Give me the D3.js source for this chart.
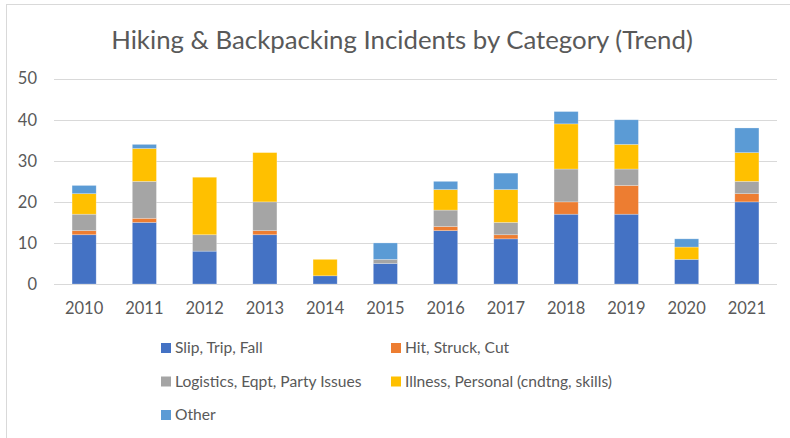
<!DOCTYPE html>
<html>
<head>
<meta charset="utf-8">
<script src="https://cdn.jsdelivr.net/npm/d3@7"></script>
<style>
  body { margin: 0; background: #fff; }
  text { font-family: Lato, "Open Sans", sans-serif; fill: #595959; }
</style>
</head>
<body>
<svg id="chart"></svg>
<script>
const width = 790;
const height = 438;

// Data
const years = ["2010", "2011", "2012", "2013", "2014", "2015", "2016", "2017", "2018", "2019", "2020", "2021"];
const slipTripFall = [12, 15, 8, 12, 2, 5, 13, 11, 17, 17, 6, 20];
const hitStruckCut = [1, 1, 0, 1, 0, 0, 1, 1, 3, 7, 0, 2];
const logistics = [4, 9, 4, 7, 0, 1, 4, 3, 8, 4, 0, 3];
const illness = [5, 8, 14, 12, 4, 0, 5, 8, 11, 6, 3, 7];
const other = [2, 1, 0, 0, 0, 4, 2, 4, 3, 6, 2, 6];
const seriesNames = ["Slip, Trip, Fall", "Hit, Struck, Cut", "Logistics, Eqpt, Party Issues", "Illness, Personal (cndtng, skills)", "Other"];
const colors = ["#4472C4", "#ED7D31", "#A5A5A5", "#FFC000", "#5B9BD5"];
const yTicks = [0, 10, 20, 30, 40, 50];

const seriesValues = [slipTripFall, hitStruckCut, logistics, illness, other];
const table = years.map((yr, i) => {
    const row = { year: yr };
    seriesNames.forEach((s, j) => { row[s] = seriesValues[j][i]; });
    return row;
});

const svg = d3.select("#chart")
    .attr("width", width)
    .attr("height", height);

// chart frame (Excel style border)
svg.append("rect")
    .attr("x", 6.5)
    .attr("y", 4.5)
    .attr("width", 800)
    .attr("height", 450)
    .attr("fill", "none")
    .attr("stroke", "#d9d9d9");

svg.append("text")
    .attr("x", 402)
    .attr("y", 49)
    .attr("text-anchor", "middle")
    .style("font-size", "25.8px")
    .text("Hiking & Backpacking Incidents by Category (Trend)");

const x = d3.scaleBand()
    .domain(years)
    .range([54, 777])
    .paddingInner(0.6)
    .paddingOuter(0.3);

const y = d3.scaleLinear()
    .domain([0, 50])
    .range([284, 78.7]);

// gridlines
svg.append("g")
    .selectAll("line")
    .data(yTicks)
    .join("line")
    .attr("x1", 54)
    .attr("x2", 777)
    .attr("y1", d => Math.round(y(d)) + 0.5)
    .attr("y2", d => Math.round(y(d)) + 0.5)
    .attr("stroke", "#d9d9d9")
    .attr("stroke-width", 1);

// y labels
svg.append("g")
    .selectAll("text")
    .data(yTicks)
    .join("text")
    .attr("x", 37)
    .attr("y", d => y(d))
    .attr("dy", "0.35em")
    .attr("text-anchor", "end")
    .style("font-size", "16.5px")
    .text(d => d);

const stack = d3.stack().keys(seriesNames);
const layers = stack(table);

svg.append("g")
    .selectAll("g")
    .data(layers)
    .join("g")
    .attr("fill", (d, i) => colors[i])
    .selectAll("rect")
    .data(d => d)
    .join("rect")
    .attr("x", d => x(d.data.year))
    .attr("width", x.bandwidth())
    .attr("y", d => y(d[1]))
    .attr("height", d => y(d[0]) - y(d[1]))
    .attr("stroke", "rgba(255,255,255,0.35)")
    .attr("stroke-width", 0.7);

// x labels
svg.append("g")
    .selectAll("text")
    .data(years)
    .join("text")
    .attr("x", d => x(d) + x.bandwidth() / 2)
    .attr("y", 314)
    .attr("text-anchor", "middle")
    .style("font-size", "16.5px")
    .text(d => d);

// legend
const legendPos = [
    [161, 348], [391, 348],
    [161, 381.5], [391, 381.5],
    [161, 415]
];

const legend = svg.append("g")
    .selectAll("g")
    .data(seriesNames)
    .join("g")
    .attr("transform", (d, i) => `translate(${legendPos[i][0]},${legendPos[i][1]})`);

legend.append("rect")
    .attr("x", 0)
    .attr("y", -5)
    .attr("width", 10)
    .attr("height", 10)
    .attr("fill", (d, i) => colors[i]);

legend.append("text")
    .attr("x", 14)
    .attr("dy", "0.35em")
    .style("font-size", "15.6px")
    .text(d => d);
</script>
</body>
</html>
